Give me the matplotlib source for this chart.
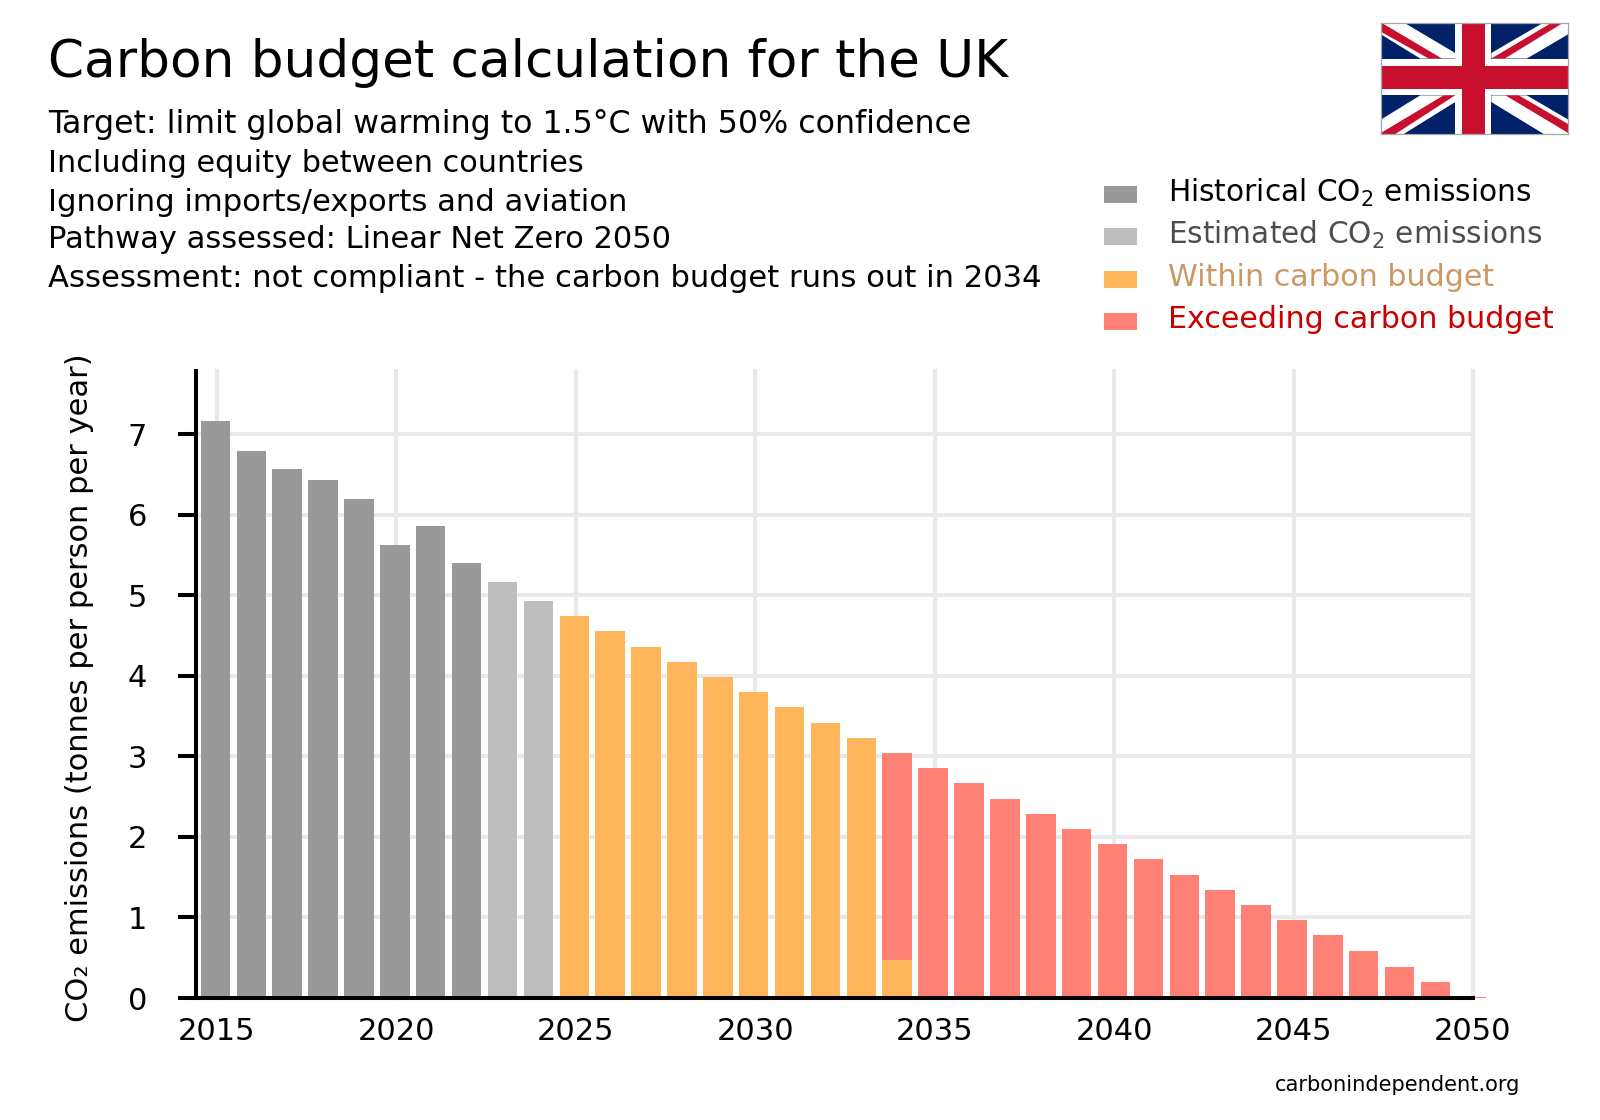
import matplotlib
matplotlib.use('Agg')
import matplotlib.pyplot as plt
from matplotlib.patches import Polygon, Rectangle

W, H = 1600, 1120

years = list(range(2015, 2051))
emissions = [7.16, 6.79, 6.56, 6.43, 6.19, 5.62, 5.86, 5.40, 5.16, 4.93,
             4.74, 4.55, 4.36, 4.17, 3.98, 3.80, 3.61, 3.41, 3.23, 3.04,
             2.85, 2.67, 2.47, 2.28, 2.10, 1.91, 1.72, 1.53, 1.34, 1.15,
             0.97, 0.78, 0.58, 0.39, 0.20, 0.01]
last_historical = 2022
last_estimated = 2024
last_within = 2033
budget_out_year = 2034
budget_out_within = 0.47

subtitle_lines = ['Target: limit global warming to 1.5°C with 50% confidence',
                  'Including equity between countries',
                  'Ignoring imports/exports and aviation',
                  'Pathway assessed: Linear Net Zero 2050',
                  'Assessment: not compliant - the carbon budget runs out in 2034']
subtitle_sizes = [22.8, 21.9, 22.1, 22, 22.07]
legend_labels = ['Historical CO$_2$ emissions', 'Estimated CO$_2$ emissions',
                 'Within carbon budget', 'Exceeding carbon budget']
legend_sizes = [21.35, 21.35, 21.7, 21.7]
legend_colors = ['#999999', '#bebebe', '#ffb55a', '#ff8074']
legend_text_colors = ['#000000', '#4d4d4d', '#cc9966', '#cc0000']
x_ticks = [2015, 2020, 2025, 2030, 2035, 2040, 2045, 2050]
y_ticks = [0, 1, 2, 3, 4, 5, 6, 7]

plt.rcParams['font.family'] = 'DejaVu Sans'
plt.rcParams['mathtext.default'] = 'regular'


def fx(px):
    return px / W


def fy(py):
    return 1 - py / H


def fig_text(px, py, s, size, color='black', **kw):
    fig.text(fx(px), fy(py), s, fontsize=size, color=color, va='baseline', **kw)


def draw_flag(ax):
    # union jack on a 60x30 grid, shapes as they sit in the reference image
    navy, red = '#012169', '#c8102e'
    ax.set_xlim(0, 60)
    ax.set_ylim(0, 30)
    ax.add_patch(Rectangle((0, 0), 60, 30, color=navy, lw=0))
    white_bands = [[(7.3, 30), (23.8, 21.8), (23.8, 20.3), (12.6, 20.3), (0, 26.8), (0, 30)],
                   [(52.2, 30), (35.4, 21.8), (35.4, 20.3), (46.8, 20.3), (60, 26.8), (60, 30)],
                   [(12.6, 10.4), (23.8, 10.4), (23.8, 8.6), (7.3, 0), (0, 0), (0, 3.9)],
                   [(46.8, 10.4), (35.4, 10.4), (35.4, 8.6), (52.2, 0), (60, 0), (60, 3.9)]]
    for pts in white_bands:
        ax.add_patch(Polygon(pts, color='white', lw=0))
    red_bands = [[(0, 30), (19.6, 20.3), (15.3, 20.3), (0, 27.5)],
                 [(54.9, 30), (58.6, 30), (39.7, 20.3), (35.4, 20.3)],
                 [(20.1, 10.4), (23.8, 10.4), (4.6, 0), (0, 0), (0, 0.3)],
                 [(39.9, 10.4), (44.2, 10.4), (60, 2.7), (60, 0.3)]]
    for pts in red_bands:
        ax.add_patch(Polygon(pts, color=red, lw=0))
    ax.add_patch(Rectangle((23.8, 0), 11.6, 30, color='white', lw=0))
    ax.add_patch(Rectangle((0, 10.4), 60, 9.9, color='white', lw=0))
    ax.add_patch(Rectangle((25.9, 0), 7.4, 30, color=red, lw=0))
    ax.add_patch(Rectangle((0, 12.1), 60, 6.3, color=red, lw=0))
    ax.set_xticks([])
    ax.set_yticks([])
    for s in ax.spines.values():
        s.set_color('#a6a6a6')
        s.set_linewidth(0.9)


fig = plt.figure(figsize=(W / 100, H / 100), dpi=100)

# plot area in pixels
left, right, top, bottom = 195.7, 1473, 371, 998
ax = fig.add_axes([fx(left), fy(bottom), (right - left) / W, (bottom - top) / H])

pitch = (1473 - 217) / 35
ax.set_xlim(2050 - (right - left) / pitch, 2050)
ax.set_ylim(0, (bottom - top) / 80.57)

bar_width = 29.5 / pitch
bar_shift = -1.6 / pitch
bar_x = [y + bar_shift for y in years]
for x, year, value in zip(bar_x, years, emissions):
    if year == budget_out_year:
        ax.bar(x, budget_out_within, width=bar_width, color=legend_colors[2], zorder=2, clip_on=False)
        ax.bar(x, value - budget_out_within, bottom=budget_out_within, width=bar_width,
               color=legend_colors[3], zorder=2, clip_on=False)
        continue
    if year <= last_historical:
        c = legend_colors[0]
    elif year <= last_estimated:
        c = legend_colors[1]
    elif year <= last_within:
        c = legend_colors[2]
    else:
        c = legend_colors[3]
    ax.bar(x, value, width=bar_width, color=c, zorder=2, clip_on=False)

ax.set_xticks(x_ticks)
ax.set_yticks(y_ticks)
ax.grid(True, color='#e9e9e9', linewidth=2.9, zorder=0)
ax.set_axisbelow(True)
ax.tick_params(axis='x', length=0, pad=14, labelsize=22)
ax.tick_params(axis='y', length=13, width=2.9, pad=22, labelsize=22)
ax.spines['top'].set_visible(False)
ax.spines['right'].set_visible(False)
ax.spines['left'].set_linewidth(2.9)
ax.spines['bottom'].set_linewidth(2.9)
ax.spines['left'].set_zorder(5)
ax.spines['bottom'].set_zorder(5)
for gl in ax.get_xgridlines() + ax.get_ygridlines():
    gl.set_clip_on(False)

fig.text(fx(80), fy(688), 'CO₂ emissions (tonnes per person per year)', fontsize=22,
         rotation=90, ha='center', va='center')

fig_text(48.5, 77, 'Carbon budget calculation for the UK', 37.2)
for py, line, size in zip([133, 171.5, 211, 248, 287], subtitle_lines, subtitle_sizes):
    fig_text(48.5, py, line, size)

for py, label, c, tc, size in zip([191.5, 234, 276.5, 319], legend_labels, legend_colors,
                                  legend_text_colors, legend_sizes):
    fig.add_artist(Rectangle((fx(1104), fy(py + 11)), 33 / W, 17 / H, color=c, lw=0,
                             transform=fig.transFigure))
    fig_text(1167.5, py + (10 if py < 240 else 9), label, size, color=tc)

fig_text(1275, 1091, 'carbonindependent.org', 15.1)

flag_ax = fig.add_axes([fx(1381), fy(134), 187 / W, 111.5 / H])
draw_flag(flag_ax)

fig.savefig('out.png', dpi=100)
